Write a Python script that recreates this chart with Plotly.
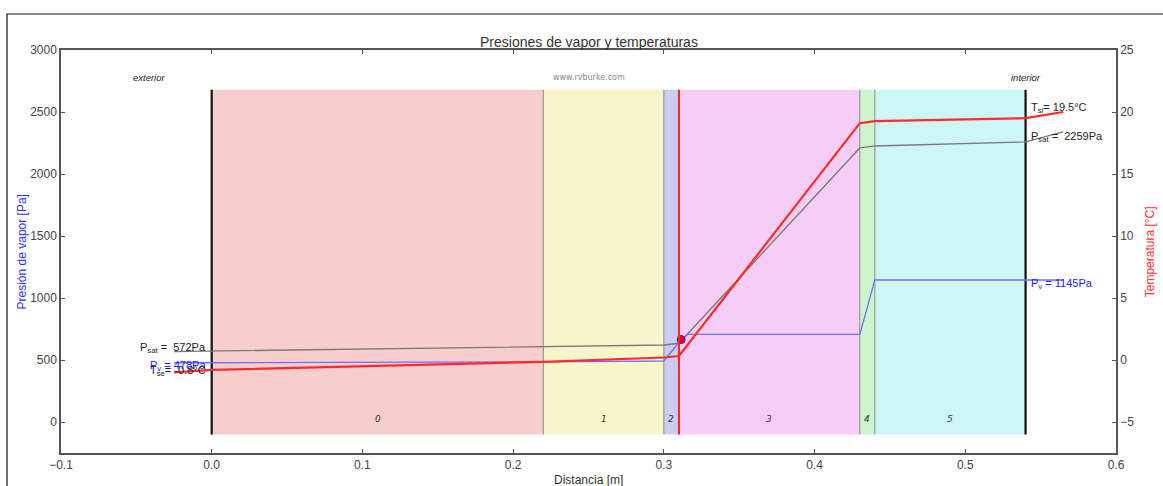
import plotly.graph_objects as go

# Layer boundaries [m] and names
layer_edges = [0.0, 0.22, 0.30, 0.31, 0.43, 0.44, 0.54]
layer_names = ["0", "1", "2", "3", "4", "5"]
layer_colors = ["#f7cdcd", "#f6f6ca", "#cdcdf4", "#f5cdf5", "#cdf5cd", "#cdf7f7"]

# Profile nodes: exterior air, surfaces, interfaces, interior air
x_nodes = [-0.025, 0.0, 0.22, 0.30, 0.31, 0.43, 0.44, 0.54, 0.565]
temperature = [-1.0, -0.8, -0.15, 0.2, 0.32, 19.1, 19.27, 19.5, 20.0]   # °C
p_sat = [568, 572, 603, 621, 635, 2210, 2226, 2259, 2339]                # Pa

# Vapour pressure profile (passes through the condensation point)
x_vapor = [-0.025, 0.0, 0.22, 0.30, 0.3115, 0.316, 0.43, 0.44, 0.54, 0.565]
p_vapor = [478, 478, 485, 492, 665, 707, 707, 1145, 1145, 1145]

# Condensation point
x_cond = [0.3115]
p_cond = [665]

rect_bottom, rect_top = -100, 2680

fig = go.Figure()

# Layers as coloured bands
for i, name in enumerate(layer_names):
    x0, x1 = layer_edges[i], layer_edges[i + 1]
    fig.add_shape(type="rect", xref="x", yref="y", x0=x0, x1=x1,
                  y0=rect_bottom, y1=rect_top, fillcolor=layer_colors[i],
                  line=dict(width=0), layer="below")
    fig.add_annotation(x=(x0 + x1) / 2, y=25, xref="x", yref="y", text=name,
                       showarrow=False,
                       font=dict(size=9, color="#333", family="DejaVu Sans", style="italic"))

# Interfaces between layers
for xe in layer_edges[1:-1]:
    fig.add_shape(type="line", xref="x", yref="y", x0=xe, x1=xe,
                  y0=rect_bottom, y1=rect_top, line=dict(color="#8a8a8a", width=1),
                  layer="below")
# Outer surfaces
for xe in (layer_edges[0], layer_edges[-1]):
    fig.add_shape(type="line", xref="x", yref="y", x0=xe, x1=xe,
                  y0=rect_bottom, y1=rect_top, line=dict(color="#111", width=2.2),
                  layer="below")
# Condensation plane
fig.add_shape(type="line", xref="x", yref="y", x0=0.31, x1=0.31,
              y0=rect_bottom, y1=rect_top, line=dict(color="#ff2020", width=2))

# Saturation pressure
fig.add_trace(go.Scatter(x=x_nodes, y=p_sat, mode="lines",
                         line=dict(color="#7a7a7a", width=1.3), yaxis="y",
                         showlegend=False))
# Vapour pressure
fig.add_trace(go.Scatter(x=x_vapor, y=p_vapor, mode="lines",
                         line=dict(color="#7070ff", width=1.3), yaxis="y",
                         showlegend=False))
# Temperature
fig.add_trace(go.Scatter(x=x_nodes, y=temperature, mode="lines",
                         line=dict(color="#ff2a2a", width=2.2), yaxis="y2",
                         showlegend=False))
# Condensation marker
fig.add_trace(go.Scatter(x=x_cond, y=p_cond, mode="markers",
                         marker=dict(color="#e8001c", size=8, symbol="circle",
                                     line=dict(color="#2020c0", width=1)),
                         yaxis="y", showlegend=False))

lab_font = dict(size=11, family="Liberation Sans", color="#222")
blue_font = dict(size=11, family="Liberation Sans", color="#2020ff")

# Exterior side labels
fig.add_annotation(x=-0.0025, y=p_sat[1] + 25, xref="x", yref="y", xanchor="right",
                   text="P<sub>sat</sub> =  %dPa" % p_sat[1], showarrow=False, font=lab_font)
fig.add_annotation(x=-0.0025, y=p_vapor[1] - 28, xref="x", yref="y", xanchor="right",
                   text="P<sub>v</sub> = %dPa" % p_vapor[1], showarrow=False, font=blue_font)
fig.add_annotation(x=-0.0025, y=temperature[1] - 0.1, xref="x", yref="y2", xanchor="right",
                   text="T<sub>se</sub>= %.1f°C" % temperature[1], showarrow=False,
                   font=lab_font)
# Interior side labels
fig.add_annotation(x=0.5425, y=temperature[-2] + 0.8, xref="x", yref="y2", xanchor="left",
                   text="T<sub>si</sub>= %.1f°C" % temperature[-2], showarrow=False,
                   font=lab_font)
fig.add_annotation(x=0.5425, y=p_sat[-2] + 38, xref="x", yref="y", xanchor="left",
                   text="P<sub>sat</sub> =  %dPa" % p_sat[-2], showarrow=False, font=lab_font)
fig.add_annotation(x=0.5425, y=p_vapor[-1] - 30, xref="x", yref="y", xanchor="left",
                   text="P<sub>v</sub> = %dPa" % p_vapor[-1], showarrow=False, font=blue_font)

# Side names and credit
side_font = dict(size=9.5, family="Liberation Sans", color="#222", style="italic")
fig.add_annotation(x=-0.041, y=2780, xref="x", yref="y", text="exterior",
                   showarrow=False, font=side_font)
fig.add_annotation(x=0.54, y=2780, xref="x", yref="y", text="interior",
                   showarrow=False, font=side_font)
fig.add_annotation(x=0.25, y=2775, xref="x", yref="y", text="www.rvburke.com",
                   showarrow=False, font=dict(size=8, family="DejaVu Sans", color="#888"))

# Title and axis titles
fig.add_annotation(x=0.5, y=1.0, xref="paper", yref="paper", yanchor="bottom", yshift=-2,
                   text="Presiones de vapor y temperaturas", showarrow=False,
                   font=dict(size=14, family="Liberation Sans", color="#333"))
fig.add_annotation(x=0.5, y=-0.066, xref="paper", yref="paper", xanchor="center",
                   yanchor="middle", text="Distancia [m]", showarrow=False,
                   font=dict(size=12, family="Liberation Sans", color="#333"))
fig.add_annotation(x=-0.037, y=0.5, xref="paper", yref="paper", textangle=-90,
                   xanchor="center", yanchor="middle",
                   text="Presión de vapor [Pa]", showarrow=False,
                   font=dict(size=12, family="Liberation Sans", color="#3030ff"))
fig.add_annotation(x=1.032, y=0.5, xref="paper", yref="paper", textangle=-90,
                   xanchor="center", yanchor="middle",
                   text="Temperatura [°C]", showarrow=False,
                   font=dict(size=12, family="Liberation Sans", color="#ff3030"))

# Figure frame
fig.add_shape(type="rect", xref="paper", yref="paper", x0=-0.0512, x1=1.06,
              y0=-0.12, y1=1.0893, line=dict(color="#111", width=1.2))

tick_font = dict(size=12, family="Liberation Sans", color="#444")
fig.update_layout(
    width=1163, height=486,
    margin=dict(l=61, r=47, t=50, b=33),
    paper_bgcolor="white", plot_bgcolor="white",
    showlegend=False,
    xaxis=dict(range=[-0.1, 0.6], tickvals=[-0.1, 0, 0.1, 0.2, 0.3, 0.4, 0.5, 0.6],
               ticktext=["\u22120.1", "0.0", "0.1", "0.2", "0.3", "0.4", "0.5", "0.6"],
               showgrid=False, zeroline=False, showline=True, linecolor="#555",
               linewidth=1.5, mirror="ticks", ticks="inside", ticklen=4,
               tickcolor="#555", tickfont=tick_font),
    yaxis=dict(range=[-250, 3000], tickvals=[0, 500, 1000, 1500, 2000, 2500, 3000],
               showgrid=False, zeroline=False, showline=True, linecolor="#555",
               linewidth=1.5, ticks="inside", ticklen=4, tickcolor="#555",
               tickfont=tick_font),
    yaxis2=dict(range=[-7.5, 25], tickvals=[-5, 0, 5, 10, 15, 20, 25],
                ticktext=["\u22125", "0", "5", "10", "15", "20", "25"],
                overlaying="y", side="right", showgrid=False, zeroline=False,
                showline=True, linecolor="#555", linewidth=1.5, ticks="inside",
                ticklen=4, tickcolor="#555", tickfont=tick_font),
)

fig.write_html("out.html")
